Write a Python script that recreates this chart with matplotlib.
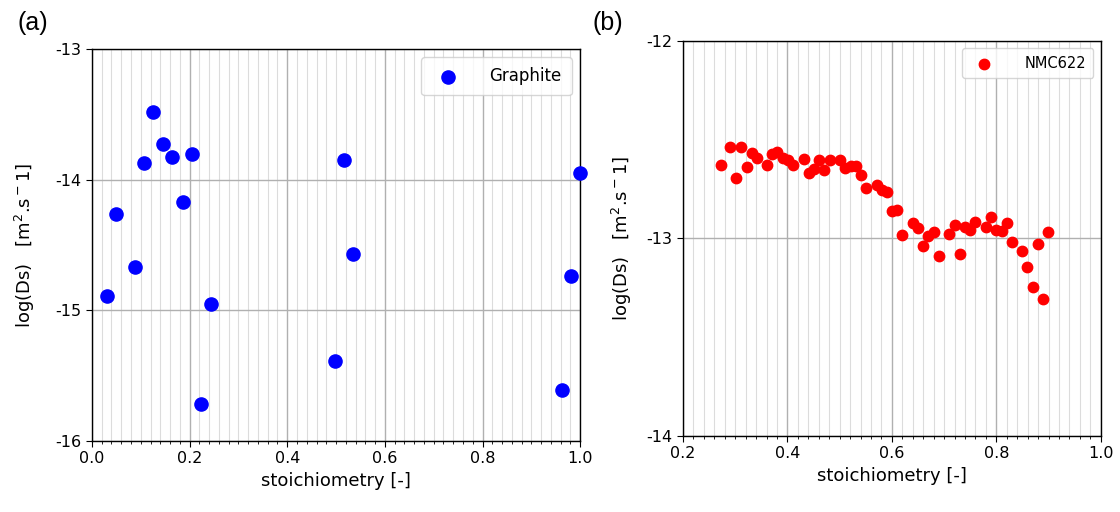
import matplotlib
matplotlib.use("Agg")
import matplotlib.pyplot as plt
from matplotlib.ticker import MultipleLocator, FormatStrFormatter

# Graphite data
graphite_x = [0.030, 0.049, 0.0875, 0.107, 0.126, 0.145, 0.164, 0.186, 0.205,
              0.243, 0.224, 0.497, 0.516, 0.535, 0.962, 0.981, 1.0]
graphite_y = [-14.89, -14.26, -14.67, -13.87, -13.48, -13.73, -13.83, -14.17, -13.80,
              -14.95, -15.72, -15.39, -13.85, -14.57, -15.61, -14.74, -13.95]

# NMC622 data
nmc_x = [0.272, 0.291, 0.302, 0.312, 0.322, 0.332, 0.342, 0.361, 0.371, 0.381,
         0.391, 0.401, 0.411, 0.431, 0.441, 0.451, 0.461, 0.471, 0.481, 0.501,
         0.510, 0.521, 0.531, 0.541, 0.551, 0.571, 0.581, 0.590, 0.600, 0.610,
         0.620, 0.640, 0.650, 0.660, 0.670, 0.680, 0.691, 0.710, 0.720, 0.730,
         0.741, 0.750, 0.760, 0.780, 0.790, 0.800, 0.810, 0.820, 0.830, 0.850,
         0.859, 0.870, 0.879, 0.889, 0.899]
nmc_y = [-12.626, -12.539, -12.695, -12.539, -12.636, -12.567, -12.594, -12.626, -12.572, -12.562,
         -12.594, -12.603, -12.626, -12.599, -12.668, -12.646, -12.603, -12.653, -12.603, -12.603,
         -12.643, -12.631, -12.635, -12.680, -12.742, -12.727, -12.754, -12.766, -12.860, -12.854,
         -12.981, -12.923, -12.946, -13.039, -12.987, -12.965, -13.091, -12.975, -12.933, -13.077,
         -12.943, -12.955, -12.919, -12.941, -12.889, -12.955, -12.963, -12.923, -13.019, -13.061,
         -13.145, -13.244, -13.030, -13.305, -12.965]

ylabel = r'log(Ds)   [m$^2$.s$^-$1]'
xlabel = 'stoichiometry [-]'

fig = plt.figure(figsize=(11.2, 5.12), dpi=100)
ax1 = fig.add_axes([0.0821, 0.1387, 0.518 - 0.0821, 0.9043 - 0.1387])
ax2 = fig.add_axes([0.6098, 0.1484, 0.9828 - 0.6098, 0.92 - 0.1484])


def style(ax, xmin, xmax, ymin, ymax, yticks):
    ax.set_xlim(xmin, xmax)
    ax.set_ylim(ymin, ymax)
    ax.xaxis.set_major_locator(MultipleLocator(0.2))
    ax.xaxis.set_minor_locator(MultipleLocator(0.02))
    ax.xaxis.set_major_formatter(FormatStrFormatter('%.1f'))
    ax.set_yticks(yticks)
    ax.set_yticklabels([str(v) for v in yticks])
    ax.grid(True, which='major', color='#b0b0b0', linewidth=1.0)
    ax.grid(True, which='minor', axis='x', color='#dcdcdc', linewidth=0.8)
    ax.set_axisbelow(True)
    ax.tick_params(axis='both', which='major', labelsize=11.5, length=4)
    ax.tick_params(axis='x', which='minor', length=2.5)
    ax.set_xlabel(xlabel, fontsize=13)
    for s in ax.spines.values():
        s.set_linewidth(1.0)


ax1.scatter(graphite_x, graphite_y, s=90, color='blue', label='Graphite', zorder=3, clip_on=False)
style(ax1, 0.0, 1.0, -16, -13, [-16, -15, -14, -13])
ax1.set_ylabel(ylabel, fontsize=13)
ax1.yaxis.set_label_coords(-0.112, 0.5)
ax1.legend(loc='upper right', fontsize=12, borderpad=0.6, handletextpad=1.5, framealpha=0.8)

ax2.scatter(nmc_x, nmc_y, s=56, color='red', label='NMC622', zorder=3)
style(ax2, 0.2, 1.0, -14, -12, [-14, -13, -12])
ax2.set_ylabel(ylabel, fontsize=13)
ax2.yaxis.set_label_coords(-0.118, 0.5)
ax2.legend(loc='upper right', fontsize=10.5, borderpad=0.5, handletextpad=1.8,
           framealpha=0.8, markerscale=1.0)

fig.text(0.016, 0.955, '(a)', fontsize=18, family='Liberation Sans', ha='left', va='center')
fig.text(0.529, 0.955, '(b)', fontsize=18, family='Liberation Sans', ha='left', va='center')

fig.savefig('out.png', dpi=100)
